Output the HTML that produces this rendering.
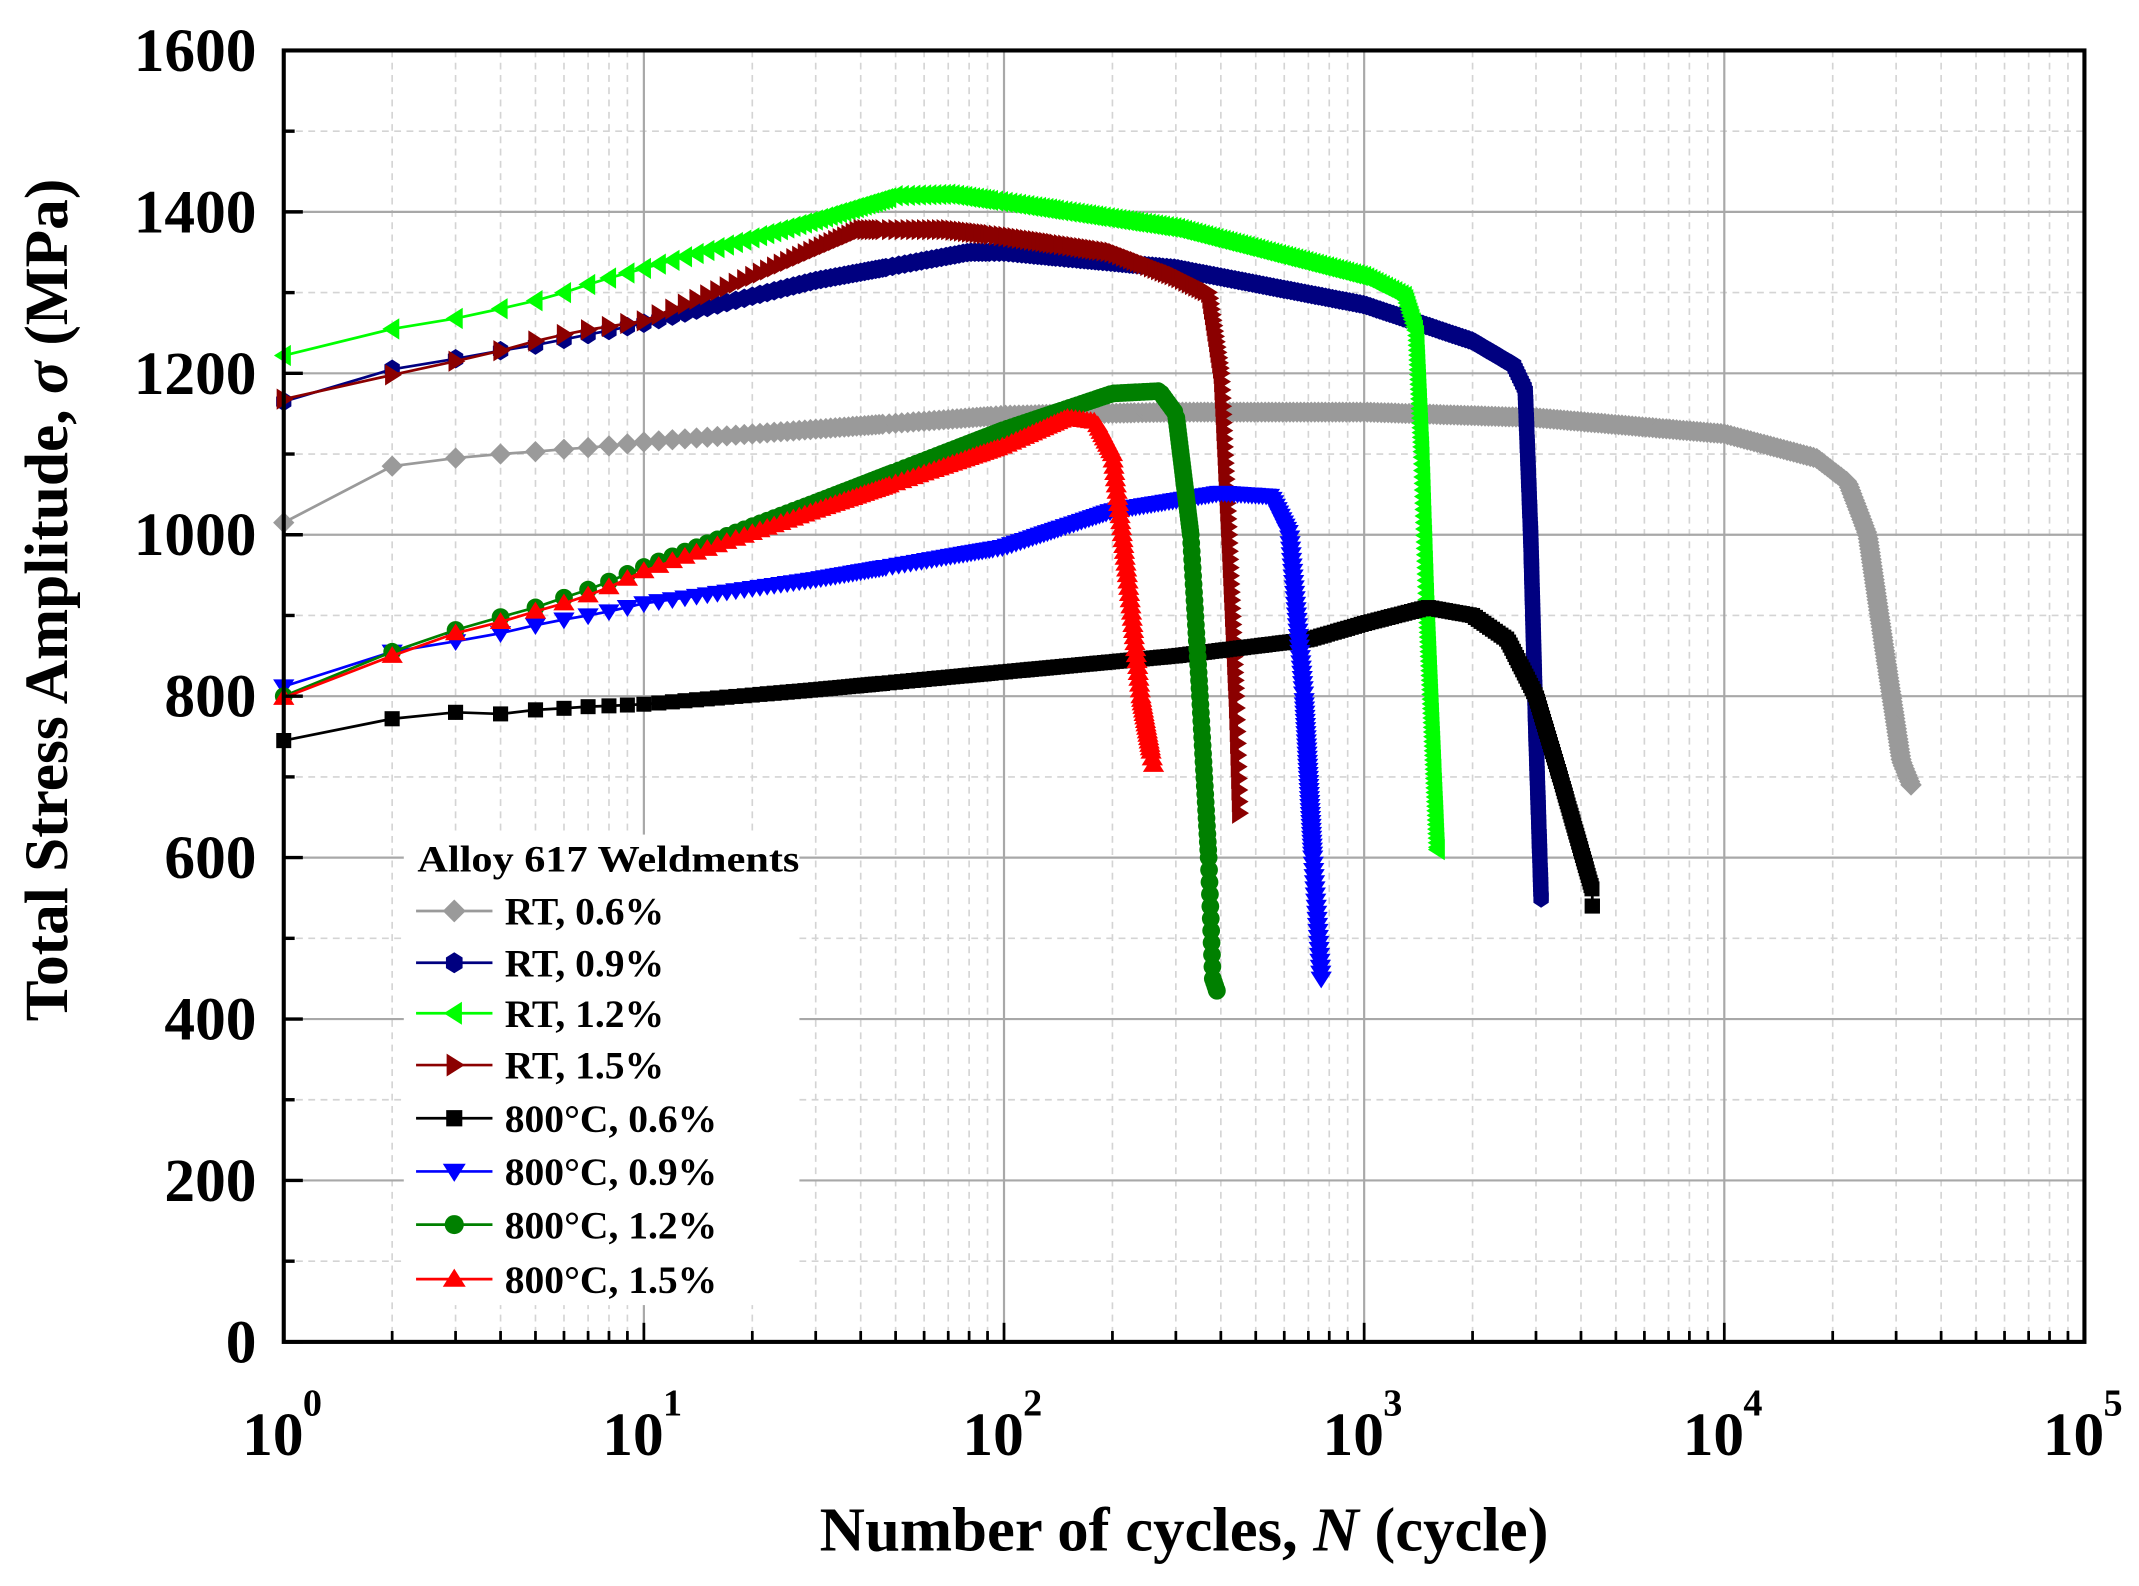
<!DOCTYPE html>
<html><head><meta charset="utf-8"><style>
html,body{margin:0;padding:0;background:#fff;}
svg{display:block;}
text{font-family:"Liberation Serif",serif;font-weight:bold;fill:#000;}
</style></head><body>
<svg id="s" width="2139" height="1586" viewBox="0 0 1568 1163" preserveAspectRatio="none" xmlns="http://www.w3.org/2000/svg">
<g id="grid"></g>
<g id="series"></g>
<rect x="296" y="612" width="290" height="345" fill="#fff"/>
<g id="axes"></g>
<g id="legend"></g>
<text x="306" y="639" font-size="27" textLength="280" lengthAdjust="spacingAndGlyphs">Alloy 617 Weldments</text>
<text transform="translate(49,440) rotate(-90)" text-anchor="middle" font-size="45">Total Stress Amplitude, <tspan font-style="italic">σ</tspan> (MPa)</text>
<text x="868" y="1137" text-anchor="middle" font-size="46">Number of cycles, <tspan font-style="italic">N</tspan> (cycle)</text>
</svg>
<script>
const NS="http://www.w3.org/2000/svg";
const X0=208,X1=1528,Y0=984,Y1=37,DEC=(X1-X0)/5,PY=(Y0-Y1)/1600;
const px=n=>X0+Math.log10(n)*DEC, py=s=>Y0-s*PY;
function el(p,tag,a,txt){const e=document.createElementNS(NS,tag);for(const k in a)e.setAttribute(k,a[k]);if(txt!=null)e.textContent=txt;p.appendChild(e);return e;}
const G=document.getElementById('grid'),A=document.getElementById('axes'),S=document.getElementById('series'),L=document.getElementById('legend');
for(let d=0;d<5;d++)for(let m=2;m<10;m++){const x=px(Math.pow(10,d)*m);el(G,'line',{x1:x,x2:x,y1:Y1,y2:Y0,stroke:'#d4d4d4','stroke-width':1.2,'stroke-dasharray':'5,4'});}
for(let v=100;v<1600;v+=200){const y=py(v);el(G,'line',{x1:X0,x2:X1,y1:y,y2:y,stroke:'#d4d4d4','stroke-width':1.2,'stroke-dasharray':'5,4'});}
for(let d=1;d<5;d++){const x=px(Math.pow(10,d));el(G,'line',{x1:x,x2:x,y1:Y1,y2:Y0,stroke:'#a8a8a8','stroke-width':1.6});}
for(let v=200;v<1600;v+=200){const y=py(v);el(G,'line',{x1:X0,x2:X1,y1:y,y2:y,stroke:'#a8a8a8','stroke-width':1.6});}
el(A,'rect',{x:X0,y:Y1,width:X1-X0,height:Y0-Y1,fill:'none',stroke:'#000','stroke-width':3});
for(let v=0;v<=1600;v+=100){const y=py(v);el(A,'line',{x1:X0,x2:X0+(v%200?8:14),y1:y,y2:y,stroke:'#000','stroke-width':2.5});
 if(v%200==0)el(A,'text',{x:188,y:y+15,'text-anchor':'end','font-size':45},v);}
for(let d=0;d<5;d++)for(let m=1;m<10;m++){const x=px(Math.pow(10,d)*m);if(m==1&&d==0)continue;el(A,'line',{x1:x,x2:x,y1:Y0,y2:Y0-(m==1?14:8),stroke:'#000','stroke-width':2});}
for(let d=0;d<=5;d++){const x=px(Math.pow(10,d));el(A,'text',{x:x-8,y:1067,'text-anchor':'middle','font-size':45},'10');el(A,'text',{x:x+14,y:1038,'font-size':28},d);}
function mk(p,type,x,y,c,r){r=r||6.5;let pts;
 switch(type){
 case 'dia':pts=[[0,-r*1.2],[r*1.2,0],[0,r*1.2],[-r*1.2,0]];break;
 case 'hex':pts=[];for(let i=0;i<6;i++){const a=Math.PI/2+i*Math.PI/3;pts.push([r*Math.cos(a),r*1.1*Math.sin(a)]);}break;
 case 'lt':pts=[[-r*1.1,0],[r*0.8,-r*1.2],[r*0.8,r*1.2]];break;
 case 'rt':pts=[[r*1.1,0],[-r*0.8,-r*1.2],[-r*0.8,r*1.2]];break;
 case 'dn':pts=[[0,r*1.1],[-r*1.2,-r*0.8],[r*1.2,-r*0.8]];break;
 case 'up':pts=[[0,-r*1.1],[-r*1.2,r*0.8],[r*1.2,r*0.8]];break;
 case 'sq':pts=[[-r*0.85,-r*0.85],[r*0.85,-r*0.85],[r*0.85,r*0.85],[-r*0.85,r*0.85]];break;
 case 'cir':el(p,'circle',{cx:x,cy:y,r:r,fill:c});return;}
 el(p,'polygon',{points:pts.map(q=>(x+q[0]).toFixed(1)+','+(y+q[1]).toFixed(1)).join(' '),fill:c});}
const series=[
 ['#9a9a9a','dia',[[1,1015],[2,1085],[3,1095],[4,1100],[5,1103],[6,1106],[7,1108],[8,1110],[10,1115],[100,1148],[300,1152],[1000,1152],[3000,1145],[10000,1125],[18000,1095],[22000,1065],[25000,1000],[28000,850],[31000,720],[33000,690]]],
 ['#000080','hex',[[1,1165],[2,1205],[3,1218],[4,1228],[5,1235],[6,1242],[7,1248],[8,1253],[10,1262],[30,1315],[80,1350],[100,1350],[300,1330],[1000,1285],[2000,1240],[2600,1210],[2800,1180],[2900,1000],[3000,750],[3100,550]]],
 ['#00ff00','lt',[[1,1222],[2,1255],[3,1268],[4,1280],[5,1290],[6,1300],[7,1310],[8,1318],[10,1330],[30,1390],[50,1420],[70,1422],[100,1412],[300,1380],[1000,1320],[1300,1295],[1400,1250],[1450,1100],[1500,900],[1600,610]]],
 ['#8b0000','rt',[[1,1168],[2,1198],[3,1215],[4,1228],[5,1240],[6,1248],[7,1254],[8,1258],[10,1265],[20,1320],[40,1378],[70,1378],[100,1370],[200,1350],[300,1320],[370,1300],[400,1200],[420,1000],[440,800],[450,655]]],
 ['#000000','sq',[[1,745],[2,772],[3,780],[4,778],[5,783],[6,785],[7,787],[8,788],[10,790],[30,808],[100,830],[300,850],[700,870],[1000,890],[1500,910],[2000,900],[2500,870],[3000,800],[3500,700],[4300,560],[4300,540]]],
 ['#0000ff','dn',[[1,812],[2,855],[3,868],[4,878],[5,888],[6,895],[7,900],[8,905],[10,915],[30,945],[100,985],[200,1030],[400,1052],[550,1048],[620,1000],[680,800],[720,600],[760,450]]],
 ['#008000','cir',[[1,800],[2,855],[3,882],[4,898],[5,910],[6,922],[7,932],[8,942],[10,960],[30,1040],[100,1130],[200,1175],[270,1178],[300,1150],[330,1000],[350,800],[370,600],[380,450],[390,435]]],
 ['#ff0000','up',[[1,798],[2,850],[3,878],[4,892],[5,905],[6,915],[7,925],[8,935],[10,955],[30,1030],[100,1110],[150,1145],[180,1140],[200,1100],[220,950],[240,800],[260,715]]]
];
series.forEach(([c,t,d])=>{
 // build per-integer-cycle points (interpolate in log N)
 const pts=[];
 for(let i=0;i<d.length-1;i++){const [n1,s1]=d[i],[n2,s2]=d[i+1];
  if(n2<=n1){pts.push([px(n2),py(s2)]);continue;}
  for(let n=Math.ceil(n1);n<n2;n++){const f=(Math.log(n)-Math.log(n1))/(Math.log(n2)-Math.log(n1));pts.push([px(n),py(s1+(s2-s1)*f)]);}}
 const last=d[d.length-1];pts.push([px(last[0]),py(last[1])]);
 el(S,'polyline',{points:d.map(q=>px(q[0])+','+py(q[1])).join(' '),fill:'none',stroke:c,'stroke-width':2});
 const g=el(S,'g',{});let lx=-99,ly=-99;
 pts.forEach((p,i)=>{if(Math.hypot(p[0]-lx,p[1]-ly)>=2.5||i==pts.length-1){mk(g,t,p[0],p[1],c);lx=p[0];ly=p[1];}});
});
const labs=['RT, 0.6%','RT, 0.9%','RT, 1.2%','RT, 1.5%','800°C, 0.6%','800°C, 0.9%','800°C, 1.2%','800°C, 1.5%'];
const lyv=[668,706,743,781,820,859,898,938];
series.forEach(([c,t],i)=>{const y=lyv[i];el(L,'line',{x1:305,x2:361,y1:y,y2:y,stroke:c,'stroke-width':2});mk(L,t,333,y,c,7);
 el(L,'text',{x:370,y:y+10,'font-size':29},labs[i]);});
</script>
</body></html>
